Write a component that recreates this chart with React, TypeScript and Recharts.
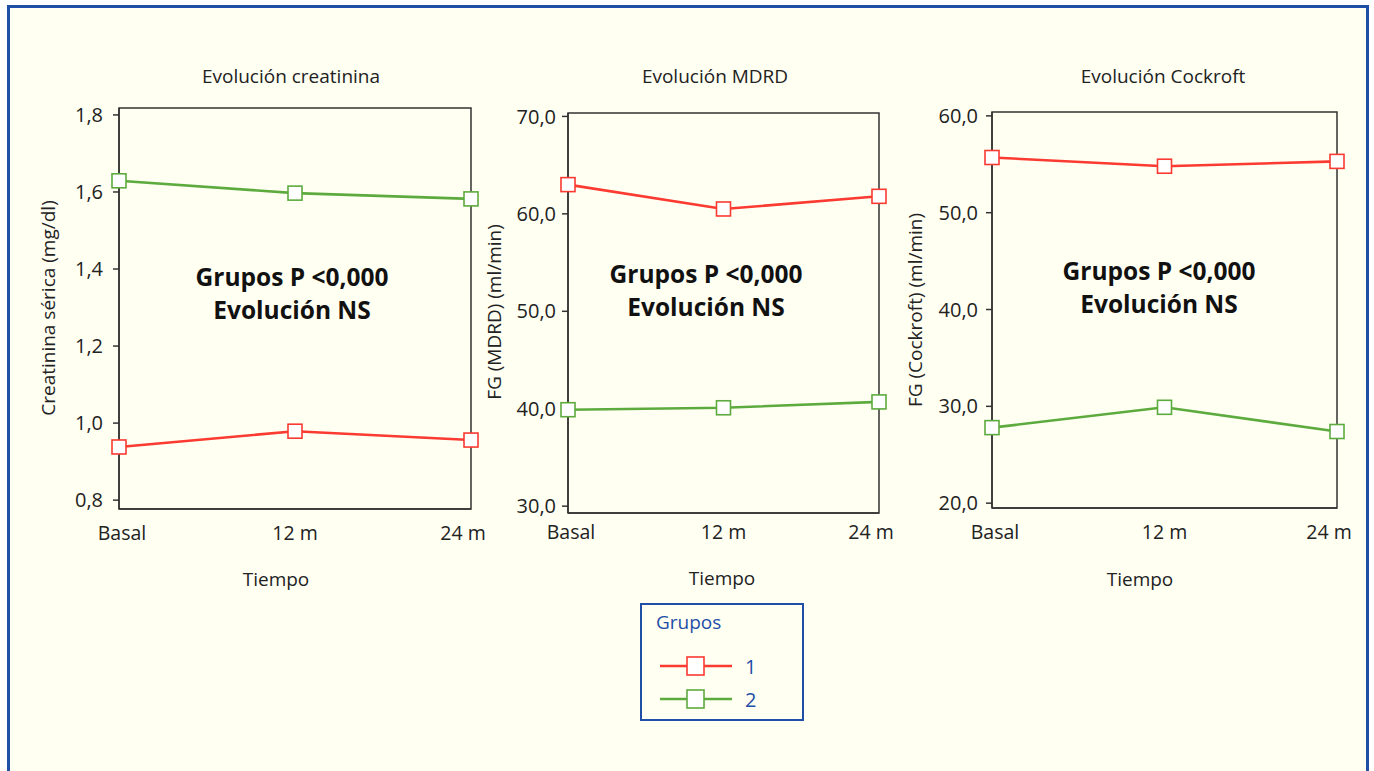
import React from "react";
import {
  LineChart,
  Line,
  XAxis,
  YAxis,
  ReferenceArea,
} from "recharts";

// categories and series values
const tiempos = ["Basal", "12 m", "24 m"];

const creatininaG1 = [0.938, 0.979, 0.956];
const creatininaG2 = [1.629, 1.597, 1.582];
const creatininaTicks = [0.8, 1.0, 1.2, 1.4, 1.6, 1.8];

const mdrdG1 = [63.0, 60.5, 61.8];
const mdrdG2 = [39.9, 40.1, 40.7];
const mdrdTicks = [30, 40, 50, 60, 70];

const cockroftG1 = [55.7, 54.8, 55.3];
const cockroftG2 = [27.8, 29.9, 27.4];
const cockroftTicks = [20, 30, 40, 50, 60];

const RED = "#fb3a31";
const GREEN = "#5dab3e";
const BG = "#fffff2";
const BLUE = "#1f4ea6";
const INK = "#222";
const FONT = "'Open Sans', 'Noto Sans', sans-serif";

const toRows = (g1: number[], g2: number[]) =>
  tiempos.map((t, i) => ({ tiempo: t, g1: g1[i], g2: g2[i] }));

const comma = (v: number) => v.toFixed(1).replace(".", ",");

// square marker, white fill
const squareDot = (color: string) => (p: any) => (
  <rect
    key={`d-${p.index}`}
    x={p.cx - 7}
    y={p.cy - 7}
    width={14}
    height={14}
    fill="#fff"
    stroke={color}
    strokeWidth={1.6}
  />
);

const XTick = (props: any) => {
  const { x, y, payload, index } = props;
  const shift = index === 0 ? 3 : index === 2 ? -8 : 0;
  return (
    <text
      x={x + shift}
      y={y}
      dy={13}
      textAnchor="middle"
      fill={INK}
      fontSize={19.5}
      fontFamily={FONT}
    >
      {payload.value}
    </text>
  );
};

type PanelProps = {
  left: number;
  top: number;
  plotW: number;
  plotH: number;
  g1: number[];
  g2: number[];
  domain: [number, number];
  ticks: number[];
  tickGap: number;
  xGap: number;
  fmt: (v: number) => string;
};

function Panel(p: PanelProps) {
  const data = toRows(p.g1, p.g2);
  const yW = 89;
  const right = 40;
  const xH = 50;
  return (
    <div style={{ position: "absolute", left: p.left, top: p.top }}>
      <LineChart
        width={yW + p.plotW + right}
        height={10 + p.plotH + xH}
        data={data}
        margin={{ top: 10, right, bottom: 0, left: 0 }}
      >
        <XAxis
          dataKey="tiempo"
          tickLine={false}
          tickSize={0}
          tickMargin={p.xGap}
          height={xH}
          axisLine={{ stroke: "#333", strokeWidth: 1.5 }}
          tick={<XTick />}
          interval={0}
        />
        <YAxis
          type="number"
          domain={p.domain}
          ticks={p.ticks}
          allowDataOverflow
          width={yW}
          tickSize={6}
          tickMargin={p.tickGap}
          tickFormatter={p.fmt}
          axisLine={{ stroke: "#333", strokeWidth: 1.5 }}
          tickLine={{ stroke: "#333", strokeWidth: 1.5 }}
          tick={{ fill: INK, fontSize: 20, fontFamily: FONT }}
        />
        <ReferenceArea
          y1={p.domain[0]}
          y2={p.domain[1]}
          fill="none"
          stroke="#333"
          strokeWidth={1.5}
          ifOverflow="extendDomain"
        />
        <Line
          dataKey="g1"
          stroke={RED}
          strokeWidth={2.6}
          dot={squareDot(RED)}
          isAnimationActive={false}
        />
        <Line
          dataKey="g2"
          stroke={GREEN}
          strokeWidth={2.6}
          dot={squareDot(GREEN)}
          isAnimationActive={false}
        />
      </LineChart>
    </div>
  );
}

const Txt = ({
  x,
  y,
  children,
  rotate,
  style,
}: {
  x: number;
  y: number;
  children: React.ReactNode;
  rotate?: boolean;
  style?: React.CSSProperties;
}) => (
  <div
    style={{
      position: "absolute",
      left: x,
      top: y,
      transform: `translate(-50%, -50%)${rotate ? " rotate(-90deg)" : ""}`,
      whiteSpace: "nowrap",
      lineHeight: 1,
      fontSize: 19,
      color: INK,
      fontFamily: FONT,
      ...style,
    }}
  >
    {children}
  </div>
);

const Note = ({ x, y }: { x: number; y: number }) => (
  <Txt x={x} y={y} style={{ fontWeight: 700, fontSize: 24.5, lineHeight: "33px", textAlign: "center", color: "#111" }}>
    Grupos P &lt;0,000
    <br />
    Evolución NS
  </Txt>
);

const LegendRow = ({ color, label, top }: { color: string; label: string; top: number }) => (
  <div style={{ position: "absolute", left: 17, top }}>
    <svg width={80} height={22} style={{ position: "absolute", left: 0, top: 0 }}>
      <line x1={1} y1={11} x2={73} y2={11} stroke={color} strokeWidth={2.6} />
      <rect x={28} y={2} width={17} height={18} fill="#fff" stroke={color} strokeWidth={1.6} />
    </svg>
    <span
      style={{
        position: "absolute",
        left: 86,
        top: 2,
        fontSize: 20,
        color: BLUE,
        fontFamily: FONT,
        lineHeight: 1,
      }}
    >
      {label}
    </span>
  </div>
);

export default function App() {
  return (
    <div
      style={{
        position: "absolute",
        left: 0,
        top: 0,
        width: 1374,
        height: 771,
        overflow: "hidden",
        background: "#fff",
        fontFamily: FONT,
      }}
    >
      <div
        style={{
          position: "absolute",
          left: 7,
          top: 5,
          width: 1362,
          height: 820,
          boxSizing: "border-box",
          border: `3px solid ${BLUE}`,
          background: BG,
        }}
      />

      {/* three panels */}
      <Panel
        left={30}
        top={98}
        plotW={352}
        plotH={401}
        g1={creatininaG1}
        g2={creatininaG2}
        domain={[0.777, 1.818]}
        ticks={creatininaTicks}
        tickGap={10}
        xGap={18}
        fmt={comma}
      />
      <Panel
        left={479}
        top={103}
        plotW={311}
        plotH={400}
        g1={mdrdG1}
        g2={mdrdG2}
        domain={[29.3, 70.35]}
        ticks={mdrdTicks}
        tickGap={6}
        xGap={13}
        fmt={comma}
      />
      <Panel
        left={903}
        top={102}
        plotW={345}
        plotH={396}
        g1={cockroftG1}
        g2={cockroftG2}
        domain={[19.5, 60.4]}
        ticks={cockroftTicks}
        tickGap={8}
        xGap={18}
        fmt={comma}
      />

      {/* titles */}
      <Txt x={291} y={76}>Evolución creatinina</Txt>
      <Txt x={715} y={76}>Evolución MDRD</Txt>
      <Txt x={1163} y={76}>Evolución Cockroft</Txt>

      {/* axis titles */}
      <Txt x={48} y={308} rotate>Creatinina sérica (mg/dl)</Txt>
      <Txt x={494} y={312} rotate>FG (MDRD) (ml/min)</Txt>
      <Txt x={915} y={310} rotate>FG (Cockroft) (ml/min)</Txt>
      <Txt x={276} y={579}>Tiempo</Txt>
      <Txt x={722} y={578}>Tiempo</Txt>
      <Txt x={1140} y={579}>Tiempo</Txt>

      <Note x={292} y={293} />
      <Note x={706} y={290} />
      <Note x={1159} y={287} />

      {/* legend */}
      <div
        style={{
          position: "absolute",
          left: 640,
          top: 603,
          width: 164,
          height: 118,
          boxSizing: "border-box",
          border: `2px solid ${BLUE}`,
        }}
      >
        <span
          style={{
            position: "absolute",
            left: 14,
            top: 8,
            fontSize: 19,
            color: BLUE,
            fontFamily: FONT,
            lineHeight: 1,
          }}
        >
          Grupos
        </span>
        <LegendRow color={RED} label="1" top={50} />
        <LegendRow color={GREEN} label="2" top={83} />
      </div>
    </div>
  );
}
